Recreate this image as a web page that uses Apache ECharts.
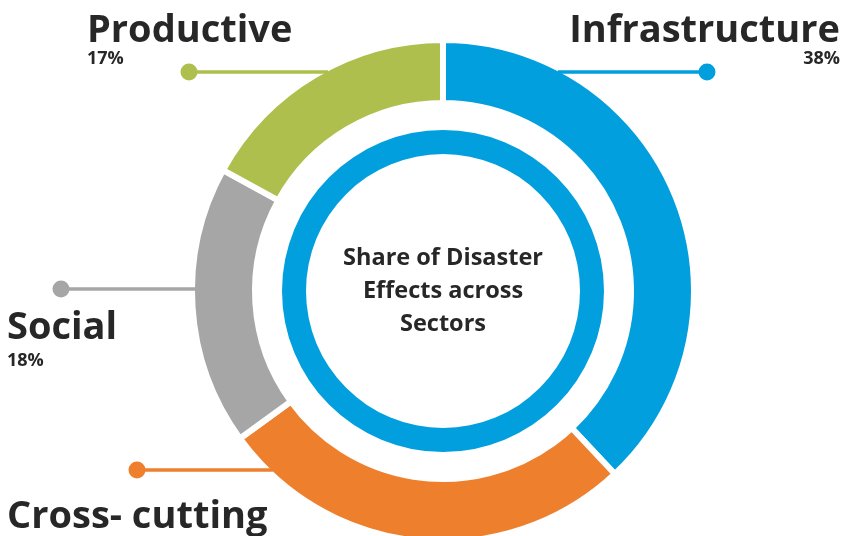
<!DOCTYPE html>
<html>
<head>
<meta charset="utf-8">
<script src="https://cdn.jsdelivr.net/npm/echarts@6/dist/echarts.min.js"></script>
<style>html,body{margin:0;padding:0;background:#fff}#c{width:843px;height:536px}</style>
</head>
<body>
<div id="c"></div>
<script>
// Data
const categories = ['Infrastructure', 'Cross- cutting', 'Social', 'Productive'];
const shares = [38, 27, 18, 17];
const colors = ['#029FDF', '#EE7F2D', '#A6A6A6', '#AEBF4D'];
const showPct = [true, false, true, true];
const centerTitle = 'Share of Disaster\nEffects across\nSectors';

const CX = 443, CY = 291, R_OUT = 251, R_IN = 188, BORDER = 6;
const VIS_R = R_OUT - BORDER / 2;
const textColor = '#272727';
const font = '"Open Sans", "Noto Sans", sans-serif';

// label layout: [x, y(top), align, pctLineHeight]
const labelPos = [
  [840, 12.7, 'right', 20],
  [7, 498.7, 'left', 20],
  [7, 309.7, 'left', 30],
  [87, 12.7, 'left', 20]
];
// leader lines: [dotX, y, side]
const leaders = [
  [707, 72, 1],
  [137, 470, -1],
  [61, 289, -1],
  [189, 72, -1]
];

const chart = echarts.init(document.getElementById('c'), null, {renderer: 'canvas'});

const graphics = [];
leaders.forEach((l, i) => {
  const [dx, y, side] = l;
  const ringX = CX + side * Math.sqrt(VIS_R * VIS_R - (y - CY) * (y - CY)) - side * 1.5;
  graphics.push({
    type: 'line', z: 10,
    shape: {x1: dx, y1: y, x2: ringX, y2: y},
    style: {stroke: colors[i], lineWidth: 3.5}
  });
  graphics.push({
    type: 'circle', z: 10,
    shape: {cx: dx, cy: y, r: 8.5},
    style: {fill: colors[i]}
  });
});

const data = categories.map((name, i) => ({
  name: name,
  value: shares[i],
  itemStyle: {color: colors[i]},
  label: {
    formatter: showPct[i] ? '{n|{b}}\n{p|{c}%}' : '{n|{b}}',
    rich: {
      n: {fontSize: 38, fontWeight: 'bold', fontFamily: font, color: textColor, lineHeight: 36},
      p: {fontSize: 18, fontWeight: 'bold', fontFamily: font, color: textColor, lineHeight: labelPos[i][3]}
    }
  }
}));

chart.setOption({
  animation: false,
  backgroundColor: '#ffffff',
  graphic: {elements: graphics},
  series: [
    {
      type: 'pie',
      z: 3,
      center: [CX, CY],
      radius: [R_IN, R_OUT],
      startAngle: 90,
      clockwise: true,
      silent: true,
      itemStyle: {borderColor: '#ffffff', borderWidth: BORDER},
      label: {show: true, position: 'outside', overflow: 'none', edgeDistance: 0},
      labelLine: {show: false},
      labelLayout: function (p) {
        const lp = labelPos[p.dataIndex];
        return {x: lp[0], y: lp[1], align: lp[2], verticalAlign: 'top', hideOverlap: false, moveOverlap: false};
      },
      data: data
    },
    {
      type: 'pie',
      z: 3,
      center: [CX, CY],
      radius: [137, 161],
      silent: true,
      labelLine: {show: false},
      label: {
        show: true,
        position: 'center',
        formatter: centerTitle,
        fontSize: 23.5,
        fontWeight: 'bold',
        fontFamily: font,
        color: textColor,
        lineHeight: 33
      },
      itemStyle: {color: '#029FDF'},
      data: [{value: 1, name: 'ring'}]
    }
  ]
});
</script>
</body>
</html>
